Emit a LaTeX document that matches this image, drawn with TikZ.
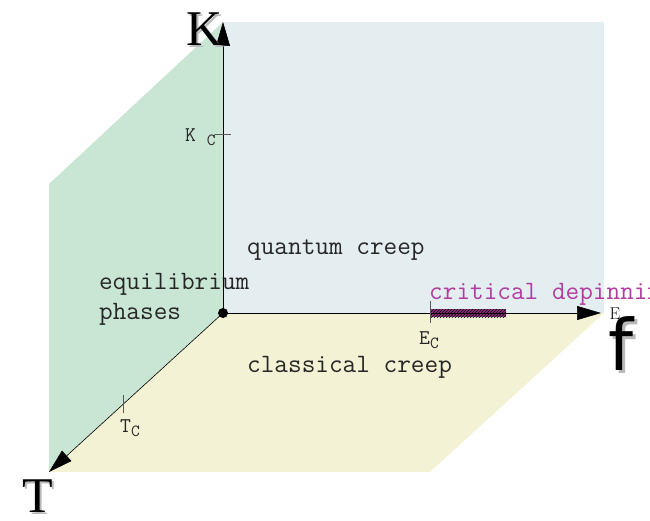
\documentclass[tikz,border=0pt]{standalone}
\usepackage{fontspec}
\newfontfamily\ffont{DejaVu Sans}
\newfontfamily\bigserif{Liberation Serif}
\usetikzlibrary{arrows.meta,patterns}
\definecolor{greenp}{HTML}{C9E6D5}
\definecolor{bluep}{HTML}{E4EEF1}
\definecolor{yellowp}{HTML}{F3F2D4}
\definecolor{magtext}{HTML}{B03CA0}
\definecolor{magbar}{HTML}{8E2A7E}
\tikzset{
  axis/.style={draw=black, line width=0.6pt, -{Triangle[length=24pt,width=14pt]}},
  tick/.style={draw=gray!70!black, line width=0.9pt},
  lbl/.style={font=\fontsize{26.5}{30}\selectfont\ttfamily, inner sep=0pt, text=black!85},
  sublbl/.style={font=\fontsize{21}{22}\selectfont\ttfamily, inner sep=0pt, text=black!85},
  big/.style={font=\fontsize{50}{52}\selectfont\bigserif, inner sep=0pt},
  fstyle/.style={font=\fontsize{71}{72}\selectfont\ffont, inner sep=0pt},
}
\newcommand{\subc}{\raisebox{-4pt}{\fontsize{17}{17}\selectfont C}}
\begin{document}
\begin{tikzpicture}[x=1pt,y=-1pt]
\useasboundingbox (0,0) rectangle (650,521);
% planes
\fill[bluep] (223,22) rectangle (604,313);
\fill[greenp] (223,313) -- (223,22) -- (49,184) -- (49,472) -- cycle;
\fill[yellowp] (223,313) -- (604,313) -- (430,472) -- (49,472) -- cycle;
% coordinates
\coordinate (O) at (223,313);
\coordinate (Kend) at (223,22);
\coordinate (Fend) at (601,313);
\coordinate (Tend) at (49,472);
% hatched bar
\fill[magbar] (430,309) rectangle (506,317);
\fill[pattern=north east lines, pattern color=black] (430,309) rectangle (506,317);
% axes
\draw[axis] (O) -- (Kend);
\draw[axis] (O) -- (Fend);
\draw[axis] (O) -- (Tend);
\fill[black] (O) circle (5);
% ticks
\coordinate (kc1) at (215,134); \coordinate (kc2) at (231,134);
\draw[tick] (kc1) -- (kc2);
\coordinate (tc1) at (123,395); \coordinate (tc2) at (123,413);
\draw[tick] (tc1) -- (tc2);
\coordinate (ec1) at (430,301); \coordinate (ec2) at (430,323);
\draw[tick] (ec1) -- (ec2);
% labels
\node[sublbl, anchor=west] (kc) at (185,137) {K \subc};
\node[sublbl, anchor=west] (tc) at (120,428) {T\subc};
\node[sublbl, anchor=west] (ec) at (419,340) {E\subc};
\node[lbl, anchor=west] (qc) at (247,250) {quantum creep};
\node[lbl, anchor=west] (cc) at (247,367) {classical creep};
\node[lbl, anchor=west, align=left] (eq) at (99,299) {equilibrium\\phases};
\begin{scope}
\clip (0,0) rectangle (650,521);
\node[lbl, anchor=west, text=magtext] (cd) at (429,294) {critical depinning};
\end{scope}
\node[font=\fontsize{17}{17}\selectfont, inner sep=0pt] (Esmall) at (615,314) {E};
% big axis labels with shadow
\node[big, text=gray!55] at (207,31) {K};
\node[big] (Klab) at (205,29) {K};
\node[big, text=gray!55] at (40,498) {T};
\node[big] (Tlab) at (38,496) {T};
\node[fstyle, text=gray!55] at (624,347) {f};
\node[fstyle] (Flab) at (621,344) {f};
\end{tikzpicture}
\end{document}
